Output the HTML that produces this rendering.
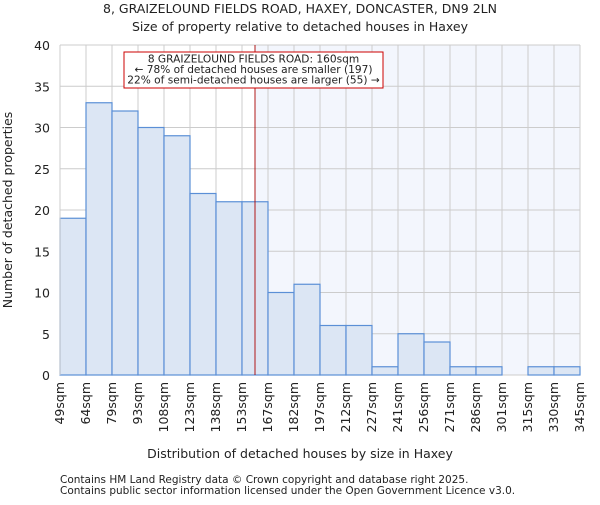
<!DOCTYPE html>
<html><head><meta charset="utf-8"><style>
body{margin:0;background:#fff;font-family:"Liberation Sans","DejaVu Sans",sans-serif}
svg text{font-family:"DejaVu Sans","Liberation Sans",sans-serif;fill:#222}
</style></head><body>
<svg id="c" width="600" height="500">
<text x="300" y="13" text-anchor="middle" font-size="12.5">8, GRAIZELOUND FIELDS ROAD, HAXEY, DONCASTER, DN9 2LN</text>
<text x="300" y="31" text-anchor="middle" font-size="12.5">Size of property relative to detached houses in Haxey</text>
<g id="g"></g>
<text x="300" y="458" text-anchor="middle" font-size="12.5">Distribution of detached houses by size in Haxey</text>
<text transform="translate(12,210) rotate(-90)" text-anchor="middle" font-size="12.5">Number of detached properties</text>
<text x="60" y="483" font-size="10.5">Contains HM Land Registry data © Crown copyright and database right 2025.</text>
<text x="60" y="494" font-size="10.5">Contains public sector information licensed under the Open Government Licence v3.0.</text>
</svg>
<script>
const labels=["49sqm","64sqm","79sqm","93sqm","108sqm","123sqm","138sqm","153sqm","167sqm","182sqm","197sqm","212sqm","227sqm","241sqm","256sqm","271sqm","286sqm","301sqm","315sqm","330sqm","345sqm"];
const counts=[19,33,32,30,29,22,21,21,10,11,6,6,1,5,4,1,1,0,1,1];
const yTicks=[0,5,10,15,20,25,30,35,40];
const marker=160;
const X0=60,X1=580,Y0=375,Y1=45,ymax=40;
const bw=(X1-X0)/counts.length;
const y=v=>Y0-(Y0-Y1)*v/ymax;
const xi=i=>X0+i*bw;
const sizeLo=49,sizeHi=345;
const xs=s=>X0+(X1-X0)*(s-sizeLo)/(sizeHi-sizeLo);
const g=document.getElementById('g');const NS="http://www.w3.org/2000/svg";
function mk(t,a){const e=document.createElementNS(NS,t);for(const k in a)e.setAttribute(k,a[k]);g.appendChild(e);return e;}
const mx=xs(marker);
let e=mk('rect',{x:mx,y:Y1,width:X1-mx,height:Y0-Y1,fill:'#f3f6fd'});


yTicks.forEach(t=>{let l=mk('line',{x1:X0,x2:X1,y1:y(t),y2:y(t),stroke:'#ccc'});


let tx=mk('text',{x:X0-10,y:y(t)+5,'text-anchor':'end','font-size':'12.5'});tx.textContent=t;

});
labels.forEach((s,i)=>{let l=mk('line',{x1:xi(i),x2:xi(i),y1:Y1,y2:Y0,stroke:'#ccc'});


let tx=mk('text',{transform:`translate(${xi(i)+4},${Y0+7}) rotate(-90)`,'text-anchor':'end','font-size':'12.5'});tx.textContent=s;

});
counts.forEach((v,i)=>{if(!v)return;let r=mk('rect',{x:xi(i),y:y(v),width:bw,height:Y0-y(v),fill:'#dce6f4',stroke:'#5b8fd6','stroke-width':1.2});

});
let ax=mk('line',{x1:X0,x2:X0,y1:Y1,y2:Y0,stroke:'#ccc'});


let ml=mk('line',{x1:mx,x2:mx,y1:Y1,y2:Y0,stroke:'#a00','stroke-width':0.9});


let bx=mk('rect',{x:124,y:52,width:259,height:36,fill:'#fff',stroke:'#c00'});


["8 GRAIZELOUND FIELDS ROAD: 160sqm","← 78% of detached houses are smaller (197)","22% of semi-detached houses are larger (55) →"].forEach((s,i)=>{
let t=mk('text',{x:253.5,y:62.5+i*10.5,'text-anchor':'middle','font-size':'10.6'});t.textContent=s;

});
</script>
</body></html>
